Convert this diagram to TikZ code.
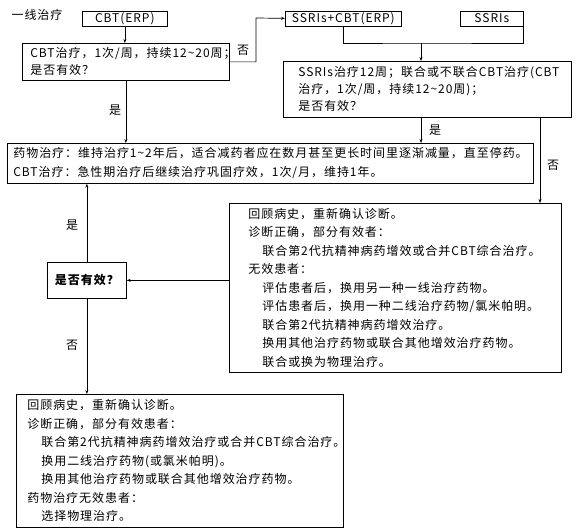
\documentclass[tikz,border=0pt]{standalone}
\usepackage{fontspec}
\setmainfont{Noto Sans CJK SC}[LetterSpace=8]
\usetikzlibrary{arrows.meta}
\newcommand{\ind}{\hspace*{14pt}}
\newcommand{\tl}{\textasciitilde}

\begin{document}
\begin{tikzpicture}[x=1pt, y=-1pt, line width=.7pt,
  font=\fontsize{12}{18.5}\selectfont,
  box/.style={draw, anchor=north west, inner ysep=0pt, align=left},
  smallbox/.style={draw, anchor=north west, inner sep=0pt, minimum height=15pt},
  arr/.style={-{Stealth[length=4pt, width=3pt]}}]
\useasboundingbox (0,0) rectangle (583,531);

% first line
\node (first) at (37,15) {一线治疗};
\node [smallbox, minimum width=85pt] (erp) at (82,10.5) {CBT(ERP)};
\node [smallbox, minimum width=116pt] (ssricbt) at (285,10.5) {SSRIs+CBT(ERP)};
\node [smallbox, minimum width=63pt] (ssri) at (460,10.5) {SSRIs};

\node [box, text width=191pt, inner xsep=8pt, minimum height=37pt,
  font=\fontsize{12}{17}\selectfont] (cbt) at (22,43)
  {CBT治疗，1次/周，持续12\tl20周；\\是否有效？};
\node [box, text width=258pt, inner xsep=15pt, minimum height=56pt,
  font=\fontsize{12}{17}\selectfont] (ssrit) at (283,61)
  {SSRIs治疗12周；联合或不联合CBT治疗(CBT\\治疗，1次/周，持续12\tl20周)；\\是否有效？};

% maintenance
\node [box, text width=514pt, inner xsep=6pt, minimum height=40pt,
  font=\fontsize{12}{19}\selectfont] (maint) at (7,143)
  {药物治疗：维持治疗1\tl2年后，适合减药者应在数月甚至更长时间里逐渐减量，直至停药。\\
   CBT治疗：急性期治疗后继续治疗巩固疗效，1次/月，维持1年。};

% no response
\node [box, text width=294pt, inner xsep=19pt, minimum height=169pt] (refr) at (229,203)
  {回顾病史，重新确认诊断。\\
   诊断正确，部分有效者：\\
   \ind 联合第2代抗精神病药增效或合并CBT综合治疗。\\
   无效患者：\\
   \ind 评估患者后，换用另一种一线治疗药物。\\
   \ind 评估患者后，换用一种二线治疗药物/氯米帕明。\\
   \ind 联合第2代抗精神病药增效治疗。\\
   \ind 换用其他治疗药物或联合其他增效治疗药物。\\
   \ind 联合或换为物理治疗。};

\node [draw, anchor=north west, inner sep=0pt, minimum width=79pt, minimum height=36pt,
  font=\fontsize{12}{18.5}\selectfont\bfseries] (query) at (47,262) {是否有效？};

\node [box, text width=305pt, inner xsep=11pt, minimum height=133pt] (fail) at (16,394)
  {回顾病史，重新确认诊断。\\
   诊断正确，部分有效患者：\\
   \ind 联合第2代抗精神病药增效治疗或合并CBT综合治疗。\\
   \ind 换用二线治疗药物(或氯米帕明)。\\
   \ind 换用其他治疗药物或联合其他增效治疗药物。\\
   药物治疗无效患者：\\
   \ind 选择物理治疗。};

\coordinate (turn) at (256,18);
\coordinate (join) at (421,43);
\coordinate (side) at (540,0);

\draw [arr] (erp.south) -- (erp.south |- cbt.north);
\draw [arr] (cbt.east) -| (turn) -- (ssricbt.west);
\draw (ssricbt.south) |- (join) -| (ssri.south east);
\draw [arr] (join) -- (join |- ssrit.north);
\draw [arr] (join |- ssrit.south) -- (join |- maint.north);
\draw [arr] (side |- ssrit.south) -- (side |- refr.north);
\draw [arr] (cbt.south) -- (cbt.south |- maint.north);
\draw [arr] (refr.west |- query.east) -- (query.east);
\draw [arr] (query.north) -- (query.north |- maint.south);
\draw [arr] (query.south) -- (query.south |- fail.north);

\node (no1) at (243,50) {否};
\node (yes1) at (115,110) {是};
\node (yes2) at (435,130) {是};
\node (no2) at (553,165) {否};
\node (yes3) at (72,225) {是};
\node (no3) at (72,345) {否};
\end{tikzpicture}
\end{document}
